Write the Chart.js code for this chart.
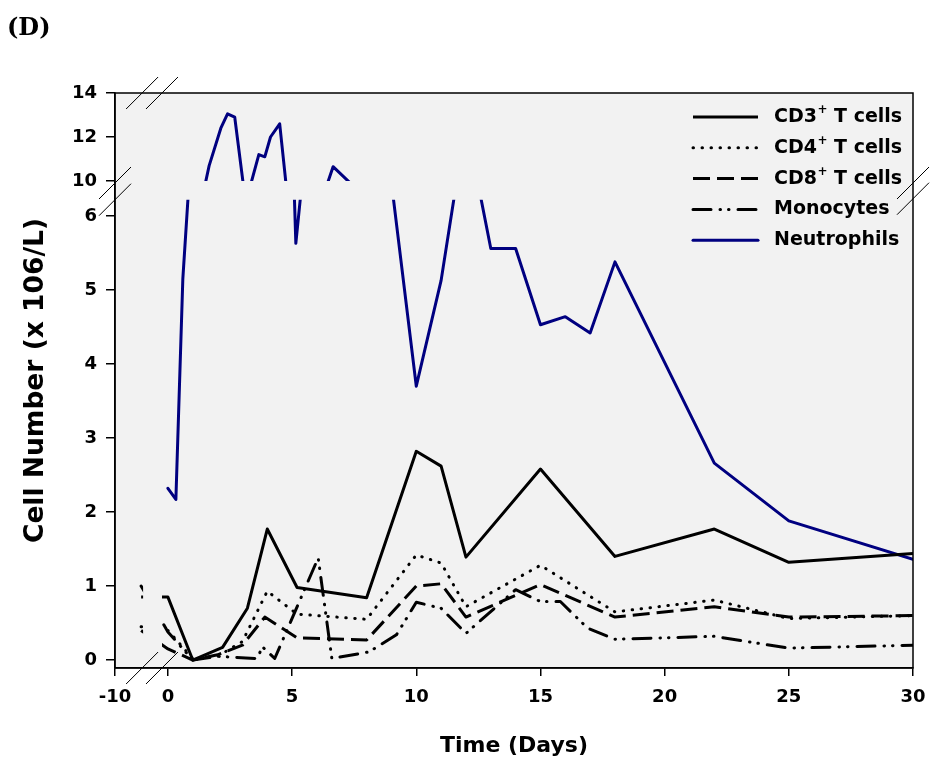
<!DOCTYPE html>
<html>
<head>
<meta charset="utf-8">
<script src="https://cdn.jsdelivr.net/npm/chart.js@4.4.1/dist/chart.umd.min.js"></script>
<style>
html, body { margin: 0; padding: 0; background: #fff; }
#wrap { position: relative; width: 931px; height: 769px; }
#panel { position: absolute; left: 7px; top: 12px; line-height: 24px; font: bold 24px "DejaVu Serif", "Liberation Serif", serif; color: #000; }
</style>
</head>
<body>
<div id="wrap">
<div id="panel">(D)</div>
<canvas id="myChart" width="931" height="769"></canvas>
</div>
<script>
"use strict"

// days after treatment, cell counts in 10^6/L
let cd3Days = [-1, 0, 1, 2.2, 3.2, 4, 5.2, 8, 10, 11, 12, 15, 18, 22, 25, 30];
let cd3Vals = [0.85, 0.85, 0.0, 0.17, 0.7, 1.77, 0.98, 0.84, 2.82, 2.62, 1.39, 2.58, 1.40, 1.77, 1.32, 1.44];

let cd4Days = [-1, 0, 1, 2, 3, 4, 5.2, 8, 10, 11, 12, 15, 18, 22, 25, 30];
let cd4Vals = [0.45, 0.40, 0.02, 0.05, 0.25, 0.93, 0.62, 0.55, 1.42, 1.31, 0.72, 1.28, 0.65, 0.81, 0.56, 0.60];

let cd8Days = [-1, 0, 1, 2, 3, 3.9, 5.2, 8, 10, 11, 12, 15, 18, 22, 25, 30];
let cd8Vals = [0.40, 0.15, 0.0, 0.07, 0.2, 0.58, 0.3, 0.27, 1.0, 1.03, 0.58, 1.02, 0.58, 0.72, 0.58, 0.60];

let monoDays = [-1, 0, 1, 2, 3.6, 3.8, 4.3, 6.05, 6.6, 8.1, 9.2, 10, 11, 12, 14, 15, 15.8, 16.9, 18, 22, 25, 30];
let monoVals = [1.0, 0.38, 0.0, 0.05, 0.02, 0.18, 0.02, 1.38, 0.02, 0.11, 0.34, 0.78, 0.7, 0.36, 0.95, 0.79, 0.79, 0.43, 0.28, 0.32, 0.16, 0.2];

let neutDays = [0, 0.32, 0.6, 1.66, 2.13, 2.4, 2.69, 3.13, 3.66, 3.9, 4.13, 4.5, 5.15, 6.65, 8, 10, 11, 12, 13, 14, 15, 16, 17, 18, 22, 25, 30];
let neutVals = [2.32, 2.17, 5.15, 10.7, 12.4, 13.05, 12.9, 9.0, 11.2, 11.1, 12.0, 12.6, 5.63, 10.65, 9.2, 3.7, 5.13, 7.27, 5.56, 5.56, 4.53, 4.64, 4.42, 5.38, 2.66, 1.88, 1.36];

let seriesNames = ['CD3+ T cells', 'CD4+ T cells', 'CD8+ T cells', 'Monocytes', 'Neutrophils'];

let xTickDays = [-10, 0, 5, 10, 15, 20, 25, 30];
let yTickVals = [0, 1, 2, 3, 4, 5, 6, 10, 12, 14];

// broken axes: y has a lower part (0-6) and an upper part (10-14), x squeezes -10..-1
const lowMin = -0.108, lowMax = 7.662;
const highMin = -12.136, highMax = 14;
const lowCut = 6.22, highCut = 10;
const xCutStart = -1.0, xCutEnd = -0.24;

const fontFamily = "'DejaVu Sans', 'Liberation Sans', Arial, sans-serif";

function dayToX(d) {
    if (d >= 0) return d;
    if (d >= -1) return d * 1.08;
    return -1.08 + (d + 1) * 0.1168;
}

function highToLow(v) {
    return lowMin + (v - highMin) / (highMax - highMin) * (lowMax - lowMin);
}

function points(days, vals) {
    let out = [];
    for (let i = 0; i < days.length; i++) {
        out.push({ x: dayToX(days[i]), y: vals[i] });
    }
    return out;
}

function lineSet(label, days, vals, color, dash, cap, axis, band, row) {
    return {
        label: label,
        data: points(days, vals),
        borderColor: color,
        backgroundColor: color,
        borderWidth: 3,
        borderDash: dash,
        borderCapStyle: cap,
        borderJoinStyle: 'round',
        pointRadius: 0,
        tension: 0,
        fill: false,
        clip: false,
        yAxisID: axis,
        band: band,
        legendRow: row
    };
}

const navy = '#000080';

let datasets = [
    lineSet(seriesNames[0], cd3Days, cd3Vals, '#000', [], 'butt', 'y', 'low', 0),
    lineSet(seriesNames[1], cd4Days, cd4Vals, '#000', [0.5, 8.5], 'round', 'y', 'low', 1),
    lineSet(seriesNames[2], cd8Days, cd8Vals, '#000', [17, 7], 'butt', 'y', 'low', 2),
    lineSet(seriesNames[3], monoDays, monoVals, '#000', [18, 9, 0.5, 8, 0.5, 9], 'round', 'y', 'low', 3),
    lineSet(seriesNames[4], neutDays, neutVals, navy, [], 'round', 'y', 'low', 4),
    lineSet(seriesNames[4], neutDays, neutVals, navy, [], 'round', 'y2', 'high', -1)
];

const plotBackground = {
    id: 'plotBackground',
    beforeDraw(chart) {
        let a = chart.chartArea;
        chart.ctx.save();
        chart.ctx.fillStyle = '#f2f2f2';
        chart.ctx.fillRect(a.left, a.top, a.right - a.left, a.bottom - a.top);
        chart.ctx.restore();
    }
};

// each copy of a line only shows inside its own part of the broken axes
const breakClip = {
    id: 'breakClip',
    beforeDatasetDraw(chart, args) {
        let ds = chart.data.datasets[args.index];
        let a = chart.chartArea;
        let ctx = chart.ctx;
        let top = a.top, bottom = a.bottom;
        if (ds.band === 'low') top = chart.scales.y.getPixelForValue(lowCut);
        if (ds.band === 'high') bottom = chart.scales.y2.getPixelForValue(highCut);
        let gapL = chart.scales.x.getPixelForValue(xCutStart);
        let gapR = chart.scales.x.getPixelForValue(xCutEnd);
        ctx.save();
        ctx.beginPath();
        ctx.rect(a.left, top, gapL - a.left, bottom - top);
        ctx.rect(gapR, top, a.right - gapR, bottom - top);
        ctx.clip();
    },
    afterDatasetDraw(chart) {
        chart.ctx.restore();
    }
};

function breakMark(ctx, cx, cy) {
    ctx.beginPath();
    ctx.moveTo(cx - 16, cy + 16);
    ctx.lineTo(cx + 16, cy - 16);
    ctx.stroke();
}

const frameAndBreaks = {
    id: 'frameAndBreaks',
    afterDraw(chart) {
        let a = chart.chartArea;
        let ctx = chart.ctx;
        ctx.save();
        ctx.strokeStyle = '#000';
        ctx.lineWidth = 1.5;
        ctx.strokeRect(a.left, a.top, a.right - a.left, a.bottom - a.top);

        ctx.lineWidth = 1;
        let yLow = chart.scales.y.getPixelForValue(lowCut);
        let yHigh = chart.scales.y2.getPixelForValue(highCut) + 2;
        let xL = chart.scales.x.getPixelForValue(xCutStart) - 1;
        let xR = chart.scales.x.getPixelForValue(xCutEnd);
        breakMark(ctx, a.left, yLow);
        breakMark(ctx, a.left, yHigh);
        breakMark(ctx, a.right, yLow - 1);
        breakMark(ctx, a.right, yHigh);
        breakMark(ctx, xL, a.top);
        breakMark(ctx, xR, a.top);
        breakMark(ctx, xL, a.bottom);
        breakMark(ctx, xR, a.bottom);
        ctx.restore();
    }
};

function drawLabel(ctx, text, x, y) {
    let parts = text.split('+');
    ctx.font = 'bold 19px ' + fontFamily;
    ctx.fillText(parts[0], x, y);
    x += ctx.measureText(parts[0]).width;
    if (parts.length > 1) {
        ctx.font = 'bold 12px ' + fontFamily;
        ctx.fillText('+', x + 0.5, y - 7);
        x += ctx.measureText('+').width + 0.5;
        ctx.font = 'bold 19px ' + fontFamily;
        ctx.fillText(parts[1], x, y);
    }
}

const insideLegend = {
    id: 'insideLegend',
    afterDraw(chart) {
        let a = chart.chartArea;
        let ctx = chart.ctx;
        ctx.save();
        chart.data.datasets.forEach(function (ds) {
            if (ds.legendRow < 0) return;
            let y = a.top + 24 + ds.legendRow * 30.8;
            ctx.strokeStyle = ds.borderColor;
            ctx.lineWidth = ds.borderWidth;
            ctx.lineCap = ds.borderCapStyle;
            ctx.setLineDash(ds.borderDash);
            ctx.beginPath();
            ctx.moveTo(a.right - 220, y);
            ctx.lineTo(a.right - 155, y);
            ctx.stroke();
            ctx.setLineDash([]);
            ctx.fillStyle = '#000';
            ctx.textBaseline = 'middle';
            ctx.textAlign = 'left';
            drawLabel(ctx, ds.label, a.right - 139, y);
        });
        ctx.restore();
    }
};

const config = {
    type: 'line',
    data: { datasets: datasets },
    options: {
        responsive: false,
        animation: false,
        devicePixelRatio: 1,
        layout: { padding: { left: 0, right: 18, top: 93, bottom: 0 } },
        plugins: {
            legend: { display: false },
            tooltip: { enabled: false }
        },
        scales: {
            x: {
                type: 'linear',
                min: dayToX(-10),
                max: 30,
                afterFit: function (scale) {
                    scale.height = 101;
                    scale.paddingLeft = 0;
                    scale.paddingRight = 0;
                },
                afterBuildTicks: function (scale) {
                    scale.ticks = xTickDays.map(d => ({ value: dayToX(d) }));
                },
                border: { display: true, color: '#000', width: 1.5 },
                grid: { drawOnChartArea: false, drawTicks: true, tickLength: 8, color: '#000', lineWidth: 1.5 },
                ticks: {
                    autoSkip: false,
                    maxRotation: 0,
                    color: '#000',
                    padding: 11,
                    font: { family: fontFamily, size: 18, weight: 'bold' },
                    callback: function (value, index) { return String(xTickDays[index]); }
                },
                title: {
                    display: true,
                    text: 'Time (Days)',
                    color: '#000',
                    font: { family: fontFamily, size: 22, weight: 'bold' },
                    padding: { top: 0, bottom: 10 }
                }
            },
            y: {
                type: 'linear',
                position: 'left',
                min: lowMin,
                max: lowMax,
                afterFit: function (scale) { scale.width = 115; },
                afterBuildTicks: function (scale) {
                    scale.ticks = yTickVals.map(v => ({ value: v <= 6 ? v : highToLow(v) }));
                },
                border: { display: true, color: '#000', width: 1.5 },
                grid: { drawOnChartArea: false, drawTicks: true, tickLength: 9, color: '#000', lineWidth: 1.5 },
                ticks: {
                    autoSkip: false,
                    color: '#000',
                    padding: 9,
                    font: { family: fontFamily, size: 18, weight: 'bold' },
                    callback: function (value, index) { return String(yTickVals[index]); }
                },
                title: {
                    display: true,
                    text: 'Cell Number (x 106/L)',
                    color: '#000',
                    font: { family: fontFamily, size: 26.5, weight: 'bold' },
                    padding: { top: 20, bottom: 0 }
                }
            },
            y2: {
                type: 'linear',
                position: 'left',
                display: false,
                min: highMin,
                max: highMax
            }
        }
    },
    plugins: [plotBackground, breakClip, frameAndBreaks, insideLegend]
};

let canvasChart = document.getElementById('myChart');
const myChart = new Chart(canvasChart, config);
</script>
</body>
</html>
